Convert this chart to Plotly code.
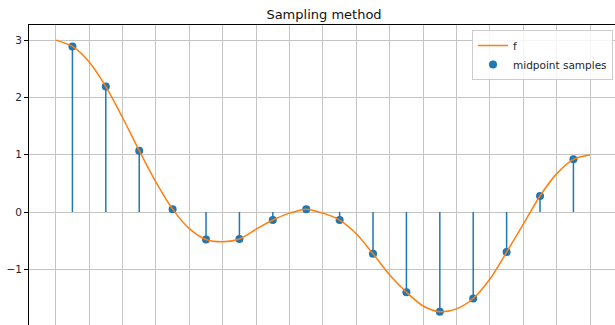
import plotly.graph_objects as go

# Interval boundaries run 0..16; samples sit at each interval midpoint
t_curve = [0, 0.5, 1, 1.5, 2, 2.5, 3, 3.5, 4, 4.5, 5, 5.5, 6, 6.5, 7, 7.5, 8,
           8.5, 9, 9.5, 10, 10.5, 11, 11.5, 12, 12.5, 13, 13.5, 14, 14.5, 15, 15.5, 16]
f_curve = [3.00, 2.89, 2.62, 2.19, 1.65, 1.07, 0.52, 0.05, -0.29, -0.48, -0.52,
           -0.47, -0.30, -0.14, -0.02, 0.05, -0.02, -0.14, -0.38, -0.73, -1.10,
           -1.40, -1.64, -1.74, -1.69, -1.51, -1.17, -0.70, -0.21, 0.28, 0.67, 0.92, 1.00]

t_mid = [0.5, 1.5, 2.5, 3.5, 4.5, 5.5, 6.5, 7.5, 8.5, 9.5, 10.5, 11.5, 12.5, 13.5, 14.5, 15.5]
f_mid = [2.89, 2.19, 1.07, 0.05, -0.48, -0.47, -0.14, 0.05, -0.14, -0.73, -1.40,
         -1.74, -1.51, -0.70, 0.28, 0.92]

boundaries = list(range(0, 17))
y_ticks = [-1, 0, 1, 2, 3]
y_labels = ["\u22121", "0", "1", "2", "3"]

BLUE = "#1f77b4"
ORANGE = "#ff7f0e"
GRID = "#c4c4c4"

# plot area in pixels: left 29, top 25, width 586, height 300
PL, PT, PW, PH = 29, 25, 586, 300

# stem segments from the zero baseline up/down to each sample
stem_x, stem_y = [], []
for tx, fy in zip(t_mid, f_mid):
    stem_x += [tx, tx, None]
    stem_y += [0, fy, None]

fig = go.Figure()
fig.add_trace(go.Scatter(x=stem_x, y=stem_y, mode="lines",
                         line=dict(color=BLUE, width=1.5),
                         showlegend=False, hoverinfo="skip"))
fig.add_trace(go.Scatter(x=t_mid, y=f_mid, mode="markers", name="midpoint samples",
                         marker=dict(color=BLUE, size=8), legendrank=2))
fig.add_trace(go.Scatter(x=t_curve, y=f_curve, mode="lines", name="f",
                         line=dict(color=ORANGE, width=1.5, shape="spline", smoothing=0.8),
                         legendrank=1))

fig.update_layout(
    width=615, height=325,
    margin=dict(l=PL, r=0, t=PT, b=0),
    paper_bgcolor="white", plot_bgcolor="white",
    font=dict(family="DejaVu Sans", size=10.5, color="#262626"),
    title=dict(text="Sampling method", x=324 / 615, xref="container", xanchor="center",
               y=1 - 14 / 325, yref="container", yanchor="middle",
               font=dict(family="DejaVu Sans", size=13, color="#111111")),
    xaxis=dict(range=[-0.8, 16.745], tickvals=boundaries, showticklabels=False,
               ticks="", showgrid=True, gridcolor=GRID, gridwidth=1,
               zeroline=False, showline=True, linecolor="black", linewidth=1,
               side="top", mirror=False),
    yaxis=dict(range=[-1.972, 3.264], tickvals=y_ticks, ticktext=y_labels,
               ticks="outside", ticklen=4, tickcolor="black", tickwidth=1,
               showgrid=True, gridcolor=GRID, gridwidth=1, zeroline=False,
               showline=True, linecolor="black", linewidth=1),
    legend=dict(x=(613 - PL) / PW, xanchor="right",
                y=1 - (30 - PT) / PH, yanchor="top",
                bgcolor="rgba(255,255,255,0.85)", bordercolor="#cccccc", borderwidth=1,
                font=dict(family="DejaVu Sans", size=10.5, color="#262626"),
                tracegroupgap=0, itemwidth=30),
    showlegend=True,
)

fig.write_html("out.html")
